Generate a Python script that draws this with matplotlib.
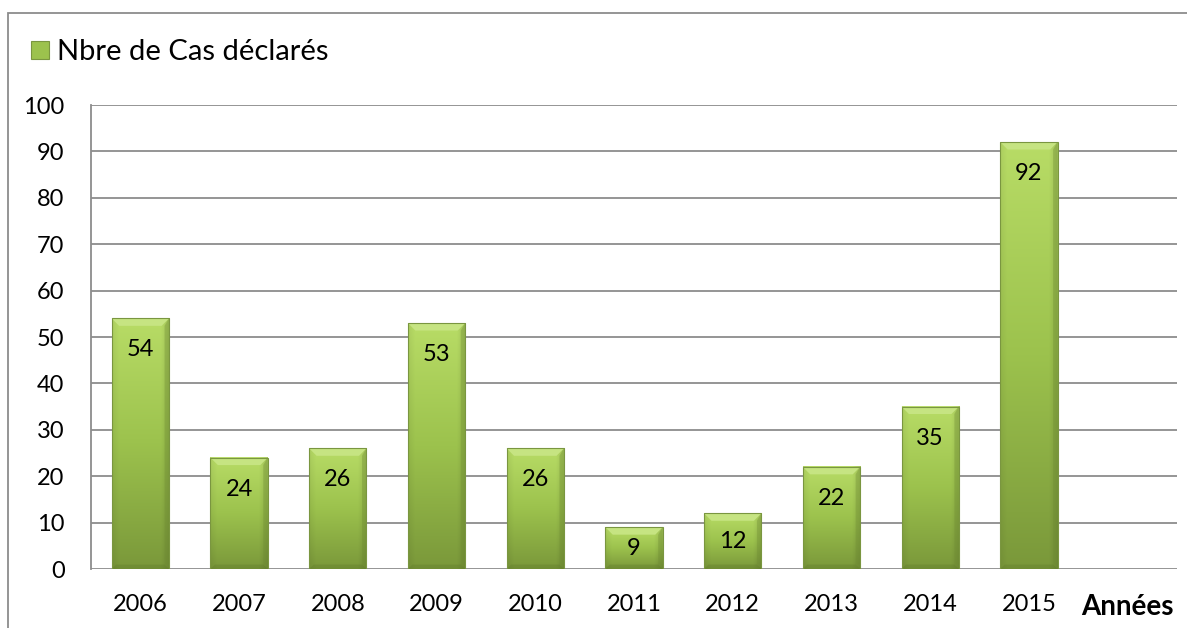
import numpy as np
import matplotlib.pyplot as plt
from matplotlib.patches import Rectangle, Polygon
from matplotlib.colors import to_rgb

annees = ["2006", "2007", "2008", "2009", "2010", "2011", "2012", "2013", "2014", "2015"]
cas = [54, 24, 26, 53, 26, 9, 12, 22, 35, 92]
serie = "Nbre de Cas déclarés"
axe_x = "Années"

plt.rcParams['font.family'] = ['Lato', 'DejaVu Sans']

W, H = 1187, 628
fig = plt.figure(figsize=(W / 100, H / 100), dpi=100)

# cadre extérieur du graphique
fig.patches.append(Rectangle((8 / W, -0.1), 1.2, (H - 13) / H + 0.1,
                             transform=fig.transFigure, fill=False,
                             edgecolor='#8c8c8c', linewidth=1.3))

ax = fig.add_axes([91 / W, (H - 569) / H, 1086 / W, 464 / H])
ax.set_xlim(-0.5, 10.5)
ax.set_ylim(0, 100)
ax.set_yticks(range(0, 101, 10))
ax.yaxis.grid(True, color='#8c8c8c', linewidth=1.3)
ax.set_axisbelow(True)
for s in ['top', 'right', 'bottom']:
    ax.spines[s].set_visible(False)
ax.spines['left'].set_color('#8c8c8c')
ax.spines['left'].set_linewidth(1.3)
ax.tick_params(axis='both', length=0, labelsize=17)
ax.tick_params(axis='x', pad=18)
ax.tick_params(axis='y', pad=19)
ax.set_xticks(range(11))
ax.set_xticklabels(annees + [axe_x])
ax.get_xticklabels()[-1].set_fontweight('bold')
ax.get_xticklabels()[-1].set_fontsize(20)

top_c = np.array(to_rgb('#b8dc66'))
mid_c = np.array(to_rgb('#9cc24d'))
bot_c = np.array(to_rgb('#7a983a'))

def bar_image(ny=200, nx=60):
    t = np.linspace(0, 1, ny)[:, None, None]  # 0 = haut, 1 = bas
    col = np.where(t < 0.5, top_c + (mid_c - top_c) * (t / 0.5),
                   mid_c + (bot_c - mid_c) * ((t - 0.5) / 0.5))
    col = np.broadcast_to(col, (ny, nx, 3)).copy()
    xs = np.linspace(0, 1, nx)
    shade = 1 - 0.12 * np.clip((xs - 0.85) / 0.15, 0, 1) - 0.06 * np.clip((0.12 - xs) / 0.12, 0, 1)
    return np.clip(col * shade[None, :, None], 0, 1)

img = bar_image()
bw = 0.58
bev_x = 0.075
bev_y = 1.6
for i, v in enumerate(cas):
    x0, x1 = i - bw / 2, i + bw / 2
    ax.imshow(img, extent=[x0, x1, 0, v], aspect='auto', zorder=2, interpolation='bilinear')
    # biseau du haut
    ax.add_patch(Polygon([[x0, v], [x1, v], [x1 - bev_x, v - bev_y], [x0 + bev_x, v - bev_y]],
                         closed=True, facecolor='#c6e482', edgecolor='none', zorder=3))
    ax.add_patch(Polygon([[x1, v], [x1, 0], [x1 - bev_x * 0.6, bev_y * 0.6], [x1 - bev_x * 0.6, v - bev_y]],
                         closed=True, facecolor='#6f8c33', alpha=0.35, edgecolor='none', zorder=3))
    ax.add_patch(Polygon([[x0, 0], [x1, 0], [x1 - bev_x * 0.6, bev_y * 0.6], [x0 + bev_x * 0.6, bev_y * 0.6]],
                         closed=True, facecolor='#5f7a2a', alpha=0.35, edgecolor='none', zorder=3))
    ax.add_patch(Rectangle((x0, 0), bw, v, fill=False, edgecolor='#7a9640', linewidth=0.8, zorder=3))
    ty = v - 6.8 if v >= 13.6 else v / 2
    ax.text(i, ty, str(v), ha='center', va='center', fontsize=17, zorder=4)

# légende
fig.patches.append(Rectangle((31 / W, (H - 59) / H), 18 / W, 18 / H, transform=fig.transFigure,
                             facecolor='#9cc24d', edgecolor='#7a9640', linewidth=0.8))
fig.text(57 / W, (H - 52) / H, serie, fontsize=21, va='center', ha='left')

fig.savefig('out.png', dpi=100)
